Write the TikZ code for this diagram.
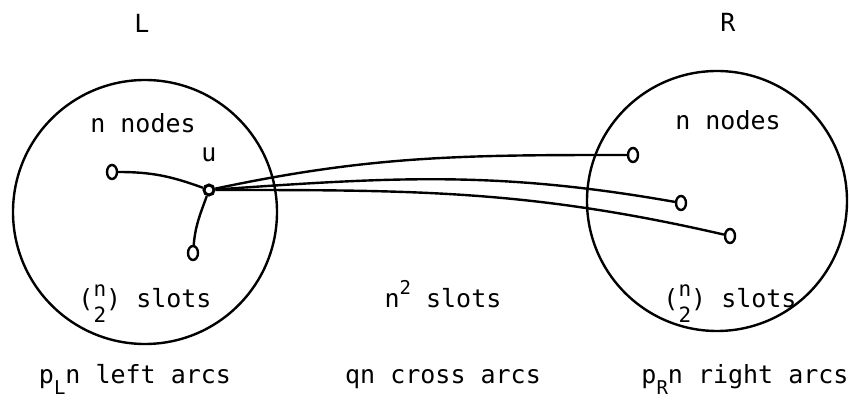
\documentclass[tikz,border=0pt]{standalone}
\usepackage{fontspec}
\setmainfont{DejaVu Sans Mono}
\usetikzlibrary{shapes.geometric}
\newcommand\binomtwo{(\rlap{\raisebox{11pt}{\fontsize{21}{21}\selectfont n}}\raisebox{-15pt}{\fontsize{21}{21}\selectfont 2})}
\newcommand\supr[1]{\raisebox{13pt}{\fontsize{19}{19}\selectfont #1}}
\newcommand\subr[1]{\raisebox{-11pt}{\fontsize{19}{19}\selectfont #1}}
\tikzset{
  lbl/.style={font=\fontsize{25}{30}\selectfont, inner sep=0pt},
  big/.style={draw, circle, line width=2.4pt, inner sep=0pt},
  dot/.style={draw, ellipse, line width=2.4pt, minimum width=10pt, minimum height=14pt, inner sep=0pt},
  udot/.style={draw, circle, line width=3pt, minimum size=10pt, inner sep=0pt},
  arc/.style={line width=2.4pt}
}
\begin{document}
\begin{tikzpicture}[x=1pt,y=1pt]
\useasboundingbox (0,0) rectangle (849,412);
% big circles
\node[big, minimum size=264pt] (Lc) at (145,200) {};
\node[big, minimum size=260pt] (Rc) at (717,211) {};
% titles
\node[lbl] (Lt) at (142,389) {L};
\node[lbl] (Rt) at (728,390) {R};
\node[lbl] (Ln) at (143,289) {n nodes};
\node[lbl] (Rn) at (728,292) {n nodes};
\node[lbl] (ul) at (209,257) {u};
% nodes
\node[dot] (a) at (112,240) {};
\node[udot] (u) at (209,222) {};
\node[dot] (b) at (193,159) {};
\node[dot] (r1) at (633,257) {};
\node[dot] (r2) at (681,209) {};
\node[dot] (r3) at (730,176) {};
% arcs
\draw[arc] (a) to[out=0,in=160] (u);
\draw[arc] (b) to[out=85,in=250] (u);
\draw[arc] (u) to[out=12,in=180] (r1);
\draw[arc] (u) to[out=4,in=170] (r2);
\draw[arc] (u) to[out=0,in=167] (r3);
% slot labels
\node[lbl, anchor=base] (Ls) at (145,104) {\binomtwo{} slots};
\node[lbl, anchor=base] (Ms) at (443,104) {n\supr{2} slots};
\node[lbl, anchor=base] (Rs) at (730,104) {\binomtwo{} slots};
% bottom labels
\node[lbl, anchor=base] (Lb) at (135,28) {p\subr{L}n left arcs};
\node[lbl, anchor=base] (Mb) at (443,28) {qn cross arcs};
\node[lbl, anchor=base] (Rb) at (745,28) {p\subr{R}n right arcs};
\end{tikzpicture}
\end{document}
